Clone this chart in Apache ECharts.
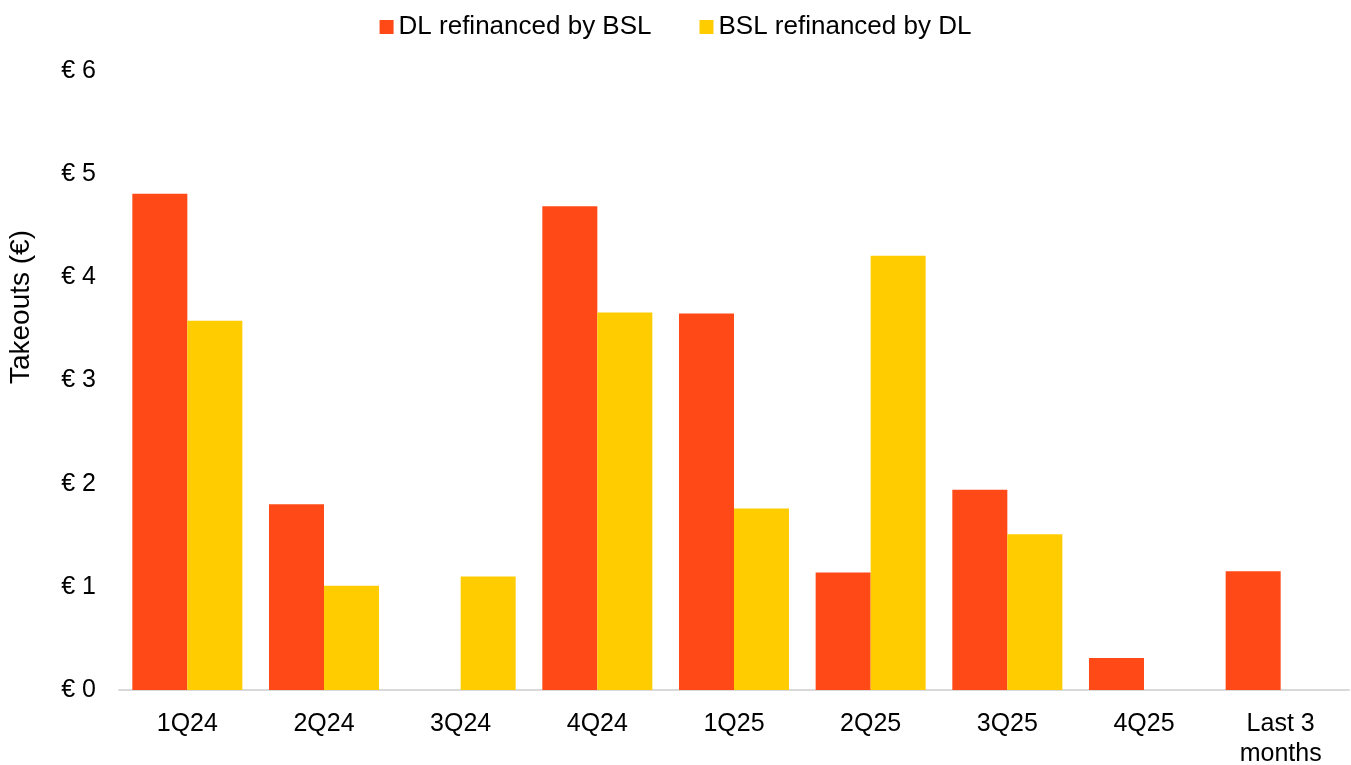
<!DOCTYPE html>
<html>
<head>
<meta charset="utf-8">
<script src="https://cdn.jsdelivr.net/npm/echarts@6/dist/echarts.min.js"></script>
<style>
  html, body { margin: 0; padding: 0; background: #fff; }
  #chart { width: 1351px; height: 765px; }
</style>
</head>
<body>
<div id="chart"></div>
<script>
// Quarterly takeouts (EUR) between direct lending and broadly syndicated loans
const categories = ['1Q24', '2Q24', '3Q24', '4Q24', '1Q25', '2Q25', '3Q25', '4Q25', 'Last 3\nmonths'];
const dlRefinancedByBsl = [4.81, 1.80, 0, 4.69, 3.65, 1.14, 1.94, 0.31, 1.15];
const bslRefinancedByDl = [3.58, 1.01, 1.10, 3.66, 1.76, 4.21, 1.51, 0, 0];
const seriesNames = ['DL refinanced by BSL', 'BSL refinanced by DL'];
const yTicks = [0, 1, 2, 3, 4, 5, 6];

const FONT = '"Liberation Sans", Arial, sans-serif';
const chart = echarts.init(document.getElementById('chart'), null, { renderer: 'canvas' });

chart.setOption({
  animation: false,
  textStyle: { fontFamily: FONT },
  legend: {
    top: 9,
    left: 'center',
    itemWidth: 14,
    itemHeight: 14,
    itemGap: 48,
    icon: 'rect',
    textStyle: { fontSize: 26, color: '#000', fontFamily: FONT },
    data: seriesNames
  },
  grid: { left: 119, right: 2, top: 71, bottom: 75, outerBoundsMode: 'none' },
  xAxis: {
    type: 'category',
    data: categories,
    axisLine: { lineStyle: { color: '#d9d9d9', width: 2 } },
    axisTick: { show: false },
    axisLabel: { fontSize: 25, color: '#000', margin: 19, lineHeight: 30, fontFamily: FONT }
  },
  yAxis: {
    type: 'value',
    min: yTicks[0],
    max: yTicks[yTicks.length - 1],
    interval: 1,
    axisLine: { show: false },
    axisTick: { show: false },
    splitLine: { show: false },
    axisLabel: {
      fontSize: 25, color: '#000', margin: 23, fontFamily: FONT,
      formatter: v => '€ ' + v
    }
  },
  graphic: [{
    type: 'text',
    left: 7,
    top: 230,
    rotation: Math.PI / 2,
    style: {
      text: 'Takeouts (€)',
      fontSize: 28,
      fill: '#000',
      fontFamily: FONT
    }
  }],
  series: [
    {
      name: seriesNames[0],
      type: 'bar',
      data: dlRefinancedByBsl,
      barGap: '0%',
      barCategoryGap: '19.5%',
      itemStyle: { color: '#FF4A17' }
    },
    {
      name: seriesNames[1],
      type: 'bar',
      data: bslRefinancedByDl,
      barGap: '0%',
      barCategoryGap: '19.5%',
      itemStyle: { color: '#FFCC00' }
    }
  ]
});
</script>
</body>
</html>
